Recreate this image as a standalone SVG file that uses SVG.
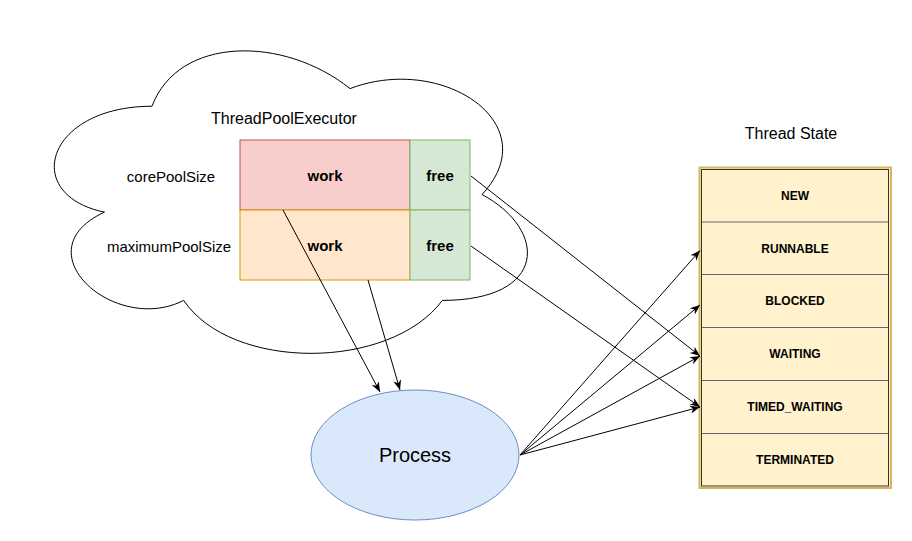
<svg xmlns="http://www.w3.org/2000/svg" width="912" height="541" viewBox="0 0 912 541">
<defs>
<style>
text{font-family:"Liberation Sans",Arial,sans-serif;fill:#000;text-anchor:middle}
.lbl{font-size:15px}
.ttl{font-size:16px}
.b{font-size:15px;font-weight:bold}
.st{font-size:12px;font-weight:bold}
.edge{stroke:#000;stroke-width:1;fill:none}
.arr{marker-end:url(#ah)}
.row{stroke:#666;stroke-width:1}
</style>
<marker id="ah" markerUnits="userSpaceOnUse" markerWidth="10" markerHeight="10" viewBox="0 0 10 10" refX="10" refY="5" orient="auto">
<path d="M0,1 L10,5 L0,9 L3,5 Z" fill="#000"/>
</marker>
</defs>
<rect width="912" height="541" fill="#fff"/>
<g id="cloud">
<path d="M152,106.25 C46.4,106.25 20,194.5 104.48,212.15 C20,250.98 115.04,335.7 183.68,300.4 C231.2,371 389.6,371 442.4,300.4 C548,300.4 548,229.8 482,194.5 C548,123.9 442.4,53.3 350,88.6 C284,35.65 178.4,35.65 152,106.25 Z" fill="#fff" stroke="#000" stroke-width="1"/>
<text class="ttl" x="284" y="124">ThreadPoolExecutor</text>
<text class="lbl" x="171" y="182">corePoolSize</text>
<text class="lbl" x="169" y="252">maximumPoolSize</text>
</g>
<g id="core-work">
<rect x="240" y="140" width="170" height="70" fill="#f8cecc" stroke="#b85450"/>
<text class="b" x="325" y="181">work</text>
</g>
<g id="max-work">
<rect x="240" y="210" width="170" height="70" fill="#ffe6cc" stroke="#d79b00"/>
<text class="b" x="325" y="251">work</text>
</g>
<g id="core-free">
<rect x="410" y="140" width="60" height="70" fill="#d5e8d4" stroke="#82b366"/>
<text class="b" x="440" y="181">free</text>
</g>
<g id="max-free">
<rect x="410" y="210" width="60" height="70" fill="#d5e8d4" stroke="#82b366"/>
<text class="b" x="440" y="251">free</text>
</g>
<g id="process">
<ellipse cx="415" cy="455" rx="104" ry="65" fill="#dae8fc" stroke="#6c8ebf"/>
<text x="415" y="462" style="font-size:20px">Process</text>
</g>
<g id="thread-state">
<text class="ttl" x="791" y="139">Thread State</text>
<rect x="699.5" y="167.5" width="191.5" height="320.5" fill="#fff2cc" stroke="#d6b656" stroke-width="2"/>
<rect x="701.5" y="169.5" width="187" height="316.5" fill="#fff2cc" stroke="#333" stroke-width="1"/>
<line class="row" x1="702" y1="222" x2="888" y2="222"/>
<line class="row" x1="702" y1="274.5" x2="888" y2="274.5"/>
<line class="row" x1="702" y1="327.5" x2="888" y2="327.5"/>
<line class="row" x1="702" y1="380.5" x2="888" y2="380.5"/>
<line class="row" x1="702" y1="433.5" x2="888" y2="433.5"/>
<text class="st" x="795" y="199.5">NEW</text>
<text class="st" x="795" y="252.5">RUNNABLE</text>
<text class="st" x="795" y="305">BLOCKED</text>
<text class="st" x="795" y="358">WAITING</text>
<text class="st" x="795" y="411">TIMED_WAITING</text>
<text class="st" x="795" y="463.5">TERMINATED</text>
</g>
<g id="connectors">
<line class="edge arr" x1="283" y1="210" x2="380" y2="392"/>
<line class="edge arr" x1="368" y1="280" x2="400" y2="390"/>
<line class="edge arr" x1="471" y1="176" x2="700" y2="356"/>
<line class="edge arr" x1="471" y1="246" x2="700" y2="407"/>
<line class="edge arr" x1="520" y1="455" x2="700" y2="250.5"/>
<line class="edge arr" x1="520" y1="455" x2="700" y2="305"/>
<line class="edge arr" x1="520" y1="455" x2="700" y2="356"/>
<line class="edge arr" x1="520" y1="455" x2="700" y2="407"/>
</g>
</svg>
